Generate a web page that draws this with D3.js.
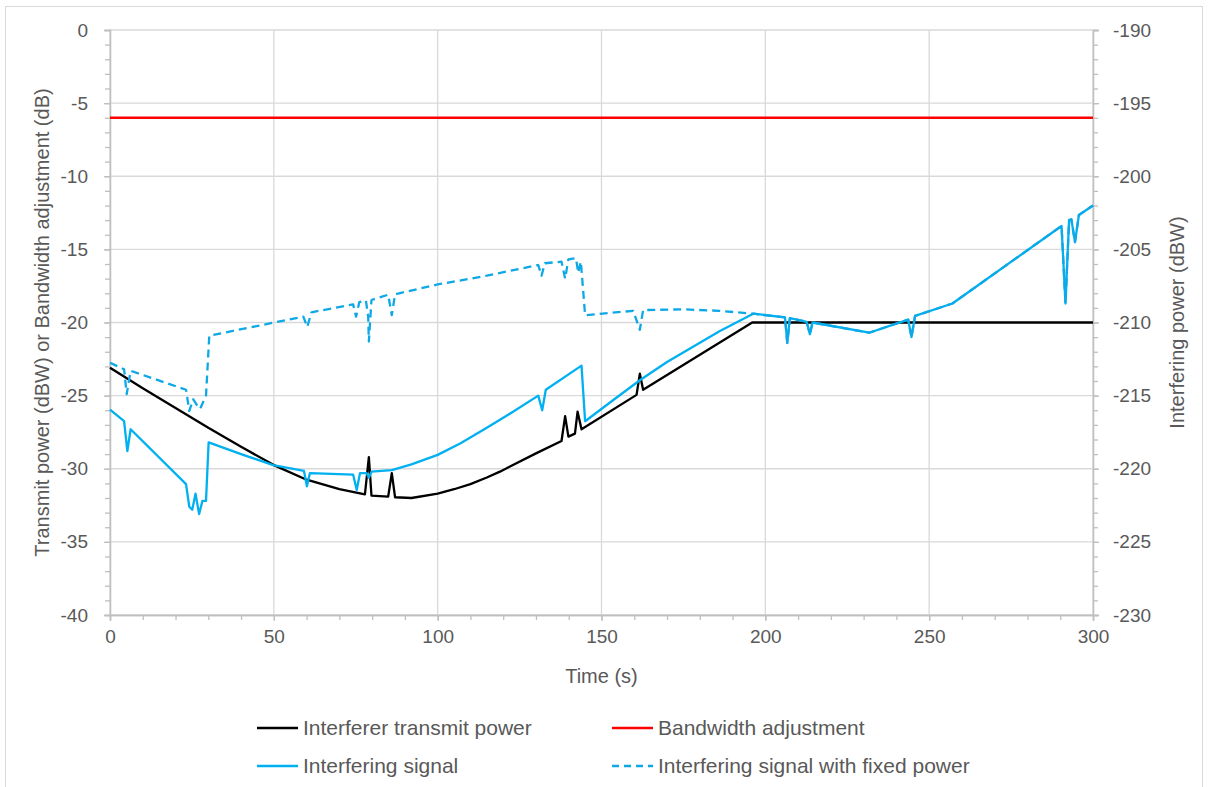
<!DOCTYPE html>
<html>
<head>
<meta charset="utf-8">
<script src="https://cdn.jsdelivr.net/npm/d3@7"></script>
<style>
  body { margin: 0; background: #fff; }
  svg text { font-family: "Liberation Sans", Arial, sans-serif; fill: #595959; }
  .legend text { font-family: "Liberation Sans Narrow", "Arial Narrow", "Liberation Sans", sans-serif; }
</style>
</head>
<body>
<div class="chart"></div>
<script>
// time (s) and interferer transmit power (dBW)
var txTime = [0, 10, 20, 30, 40, 50, 60, 70, 77.8, 79, 79.8, 84.9, 86, 87, 92, 100, 105, 110, 115, 119, 130, 137.8, 138.9, 139.9, 141.9, 142.7, 143.9, 160.7, 161.7, 162.7, 196, 300];
var txPower = [-23.1, -24.5, -25.85, -27.2, -28.5, -29.75, -30.75, -31.4, -31.75, -29.2, -31.84, -31.9, -30.3, -31.95, -32.0, -31.7, -31.4, -31.05, -30.6, -30.2, -28.95, -28.1, -26.4, -27.8, -27.6, -26.1, -27.3, -24.95, -23.5, -24.6, -20, -20];

// bandwidth adjustment (dB)
var bwTime = [0, 300];
var bwAdjust = [-6, -6];

// interfering signal (dBW, right axis)
var sigTime = [0, 4.3, 5.3, 6.3, 23.2, 24.2, 25.1, 26.1, 27.2, 28.2, 29.3, 30.1, 40, 49.8, 59.2, 60.1, 61, 74.2, 75.3, 76.3, 78.3, 79, 79.8, 86, 92, 100, 107, 115, 123, 130.7, 131.9, 133, 143.9, 145, 153, 161.7, 170, 186, 196.3, 206, 206.7, 207.5, 212.6, 213.6, 214.4, 231.7, 243.6, 244.6, 245.7, 257.1, 290.4, 291.6, 292.7, 293.4, 294.5, 295.7, 300];
var sigPower = [-215.95, -216.75, -218.8, -217.3, -221.05, -222.6, -222.8, -221.7, -223.1, -222.2, -222.2, -218.2, -219.0, -219.75, -220.15, -221.2, -220.3, -220.4, -221.45, -220.3, -220.3, -220.6, -220.2, -220.1, -219.7, -219.05, -218.25, -217.2, -216.1, -215.0, -216.0, -214.6, -212.95, -216.75, -215.4, -213.95, -212.7, -210.6, -209.4, -209.65, -211.4, -209.7, -209.95, -210.8, -210.0, -210.7, -209.8, -211.0, -209.55, -208.7, -203.4, -208.7, -203.0, -202.95, -204.5, -202.65, -202.0];

// interfering signal with fixed power (dBW, right axis)
var fixTime = [0, 4.3, 5.1, 6.3, 23.2, 24.2, 25.4, 26.4, 27.5, 29.3, 30.3, 59, 60.2, 61.5, 74.2, 75.1, 76.1, 78.1, 78.8, 79, 79.8, 84.9, 86, 87, 100, 115, 130.7, 131.7, 132.7, 137.8, 138.9, 139.9, 142.2, 142.9, 143.7, 145, 159.7, 161.7, 162.7, 175, 186, 196.3, 206, 206.7, 207.5, 212.6, 213.6, 214.4, 231.7, 243.6, 244.6, 245.7, 257.1, 290.4, 291.6, 292.7, 293.4, 294.5, 295.7, 300];
var fixPower = [-212.75, -213.2, -214.9, -213.3, -214.6, -216.05, -215.25, -215.6, -215.9, -215.0, -210.9, -209.6, -210.3, -209.3, -208.76, -209.6, -208.6, -208.5, -209.6, -211.3, -208.46, -208.1, -209.5, -208.07, -207.4, -206.8, -206.07, -206.8, -205.95, -205.84, -207.0, -205.68, -205.6, -206.6, -205.84, -209.5, -209.2, -210.5, -209.15, -209.1, -209.2, -209.4, -209.65, -211.4, -209.7, -209.95, -210.8, -210.0, -210.7, -209.8, -211.0, -209.55, -208.7, -203.4, -208.7, -203.0, -202.95, -204.5, -202.65, -202.0];

var xTicks = [0, 50, 100, 150, 200, 250, 300];
var leftTicks = [0, -5, -10, -15, -20, -25, -30, -35, -40];
var rightTicks = [-190, -195, -200, -205, -210, -215, -220, -225, -230];

var w = 1208, h = 787;
var plotL = 110, plotR = 1093, plotT = 30, plotB = 615;

var svg = d3.select(".chart").append("svg")
	.attr("width", w)
	.attr("height", h);

// chart border
svg.append("rect")
	.attr("x", 5.5).attr("y", 6.5)
	.attr("width", 1197).attr("height", 800)
	.attr("fill", "none")
	.attr("stroke", "#d9d9d9");

var x = d3.scaleLinear().domain([0, 300]).range([plotL, plotR]);
var yL = d3.scaleLinear().domain([-40, 0]).range([plotB, plotT]);
var yR = d3.scaleLinear().domain([-230, -190]).range([plotB, plotT]);

//gridlines
svg.append("g").selectAll("line")
	.data(leftTicks)
	.enter().append("line")
	.attr("x1", plotL).attr("x2", plotR)
	.attr("y1", function(d){ return yL(d); })
	.attr("y2", function(d){ return yL(d); })
	.attr("stroke", "#d9d9d9")
	.attr("stroke-width", 1.3);

svg.append("g").selectAll("line")
	.data(xTicks)
	.enter().append("line")
	.attr("x1", function(d){ return x(d); })
	.attr("x2", function(d){ return x(d); })
	.attr("y1", plotT).attr("y2", plotB)
	.attr("stroke", "#d9d9d9")
	.attr("stroke-width", 1.3);

// axes
function styleAxis(g){
	g.selectAll("path, line").attr("stroke", "#bfbfbf").attr("stroke-width", 1.3);
	g.selectAll("text").attr("fill", "#595959").style("font-size", "19px")
		.style("font-family", "'Liberation Sans', Arial, sans-serif");
}

var xMinor = svg.append("g").attr("transform", "translate(0," + plotB + ")")
	.call(d3.axisBottom(x).ticks(30).tickSize(5).tickFormat(""));
styleAxis(xMinor);
var xAxis = svg.append("g").attr("transform", "translate(0," + plotB + ")")
	.call(d3.axisBottom(x).tickValues(xTicks).tickSize(6).tickPadding(9).tickFormat(d3.format("d")));
styleAxis(xAxis);

var lMinor = svg.append("g").attr("transform", "translate(" + plotL + ",0)")
	.call(d3.axisLeft(yL).ticks(40).tickSize(5).tickFormat(""));
styleAxis(lMinor);
var lAxis = svg.append("g").attr("transform", "translate(" + plotL + ",0)")
	.call(d3.axisLeft(yL).tickValues(leftTicks).tickSize(6).tickPadding(16).tickFormat(d3.format("d")));
styleAxis(lAxis);

var rMinor = svg.append("g").attr("transform", "translate(" + plotR + ",0)")
	.call(d3.axisRight(yR).ticks(40).tickSize(5).tickFormat(""));
styleAxis(rMinor);
var rAxis = svg.append("g").attr("transform", "translate(" + plotR + ",0)")
	.call(d3.axisRight(yR).tickValues(rightTicks).tickSize(6).tickPadding(14).tickFormat(d3.format("d")));
styleAxis(rAxis);

svg.selectAll(".domain").attr("stroke", "#bfbfbf");
// d3 uses a unicode minus, Excel a hyphen
svg.selectAll(".tick text").text(function(){ return this.textContent.replace("\u2212", "-"); });

// axis titles
svg.append("text")
	.text("Time (s)")
	.attr("x", (plotL + plotR) / 2).attr("y", 676)
	.attr("text-anchor", "middle").attr("dy", "0.35em")
	.style("font-size", "20px");

svg.append("text")
	.text("Transmit power (dBW) or Bandwidth adjustment (dB)")
	.attr("transform", "translate(42," + ((plotT + plotB) / 2) + ") rotate(-90)")
	.attr("text-anchor", "middle").attr("dy", "0.35em")
	.style("font-size", "20px");

svg.append("text")
	.text("Interfering power (dBW)")
	.attr("transform", "translate(1177," + ((plotT + plotB) / 2) + ") rotate(-90)")
	.attr("text-anchor", "middle").attr("dy", "0.35em")
	.style("font-size", "20px");

// lines
function zip(a, b){ return a.map(function(t, i){ return [t, b[i]]; }); }

var lineL = d3.line().x(function(d){ return x(d[0]); }).y(function(d){ return yL(d[1]); });
var lineR = d3.line().x(function(d){ return x(d[0]); }).y(function(d){ return yR(d[1]); });

var series = [
	{name: "Interferer transmit power", data: zip(txTime, txPower), line: lineL, color: "#000000", dash: null},
	{name: "Bandwidth adjustment", data: zip(bwTime, bwAdjust), line: lineL, color: "#ff0000", dash: null},
	{name: "Interfering signal", data: zip(sigTime, sigPower), line: lineR, color: "#00b0f0", dash: null},
	{name: "Interfering signal with fixed power", data: zip(fixTime, fixPower), line: lineR, color: "#0ea8e6", dash: "8,5"}
];

svg.append("g").selectAll("path")
	.data(series)
	.enter().append("path")
	.attr("d", function(d){ return d.line(d.data); })
	.attr("fill", "none")
	.attr("stroke", function(d){ return d.color; })
	.attr("stroke-width", 2.3)
	.attr("stroke-linejoin", "round")
	.attr("stroke-dasharray", function(d){ return d.dash; });

// legend
var legendPos = [[257, 728], [612, 728], [257, 766], [612, 766]];
var legend = svg.append("g").attr("class", "legend").selectAll("g")
	.data(series)
	.enter().append("g")
	.attr("transform", function(d, i){ return "translate(" + legendPos[i][0] + "," + legendPos[i][1] + ")"; });

legend.append("line")
	.attr("x1", 0).attr("x2", 41)
	.attr("stroke", function(d){ return d.color; })
	.attr("stroke-width", 2.3)
	.attr("stroke-dasharray", function(d){ return d.dash ? "7,5" : null; });

legend.append("text")
	.text(function(d){ return d.name; })
	.attr("x", 46).attr("dy", "0.35em")
	.style("font-size", "21px");
</script>
</body>
</html>
